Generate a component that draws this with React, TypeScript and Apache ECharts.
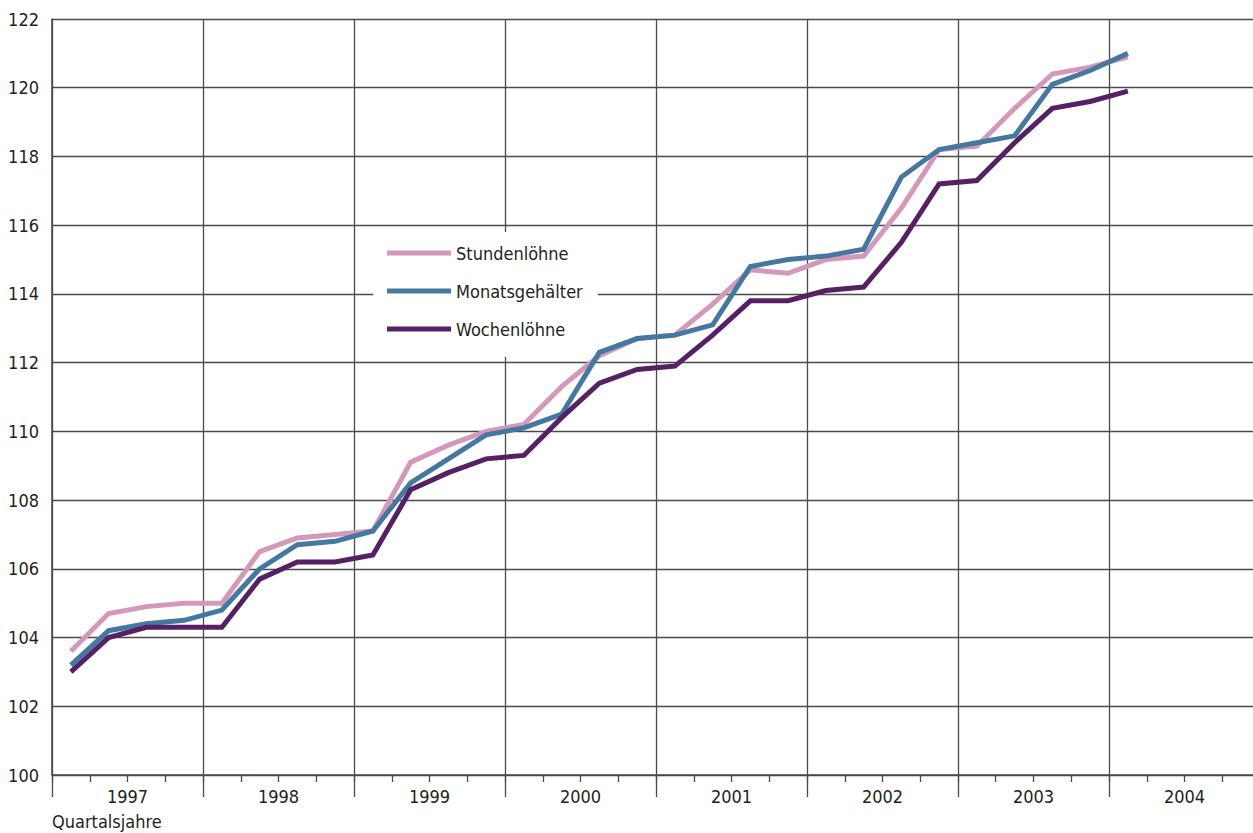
import React, { useEffect, useRef } from "react";
import * as echarts from "echarts";

const years = ["1997", "1998", "1999", "2000", "2001", "2002", "2003", "2004"];
const quarterNames = ["Q1", "Q2", "Q3", "Q4"];
const quarterCats: string[] = [];
years.forEach((y) => quarterNames.forEach((q) => quarterCats.push(y + " " + q)));

const seriesNames = ["Stundenlöhne", "Monatsgehälter", "Wochenlöhne"];

const stundenloehne = [
  103.6, 104.7, 104.9, 105.0, 105.0, 106.5, 106.9, 107.0, 107.1, 109.1, 109.6, 110.0,
  110.2, 111.3, 112.2, 112.7, 112.8, 113.7, 114.7, 114.6, 115.0, 115.1, 116.5, 118.2,
  118.3, 119.4, 120.4, 120.6, 120.9,
];
const monatsgehaelter = [
  103.2, 104.2, 104.4, 104.5, 104.8, 106.0, 106.7, 106.8, 107.1, 108.5, 109.2, 109.9,
  110.1, 110.5, 112.3, 112.7, 112.8, 113.1, 114.8, 115.0, 115.1, 115.3, 117.4, 118.2,
  118.4, 118.6, 120.1, 120.5, 121.0,
];
const wochenloehne = [
  103.0, 104.0, 104.3, 104.3, 104.3, 105.7, 106.2, 106.2, 106.4, 108.3, 108.8, 109.2,
  109.3, 110.4, 111.4, 111.8, 111.9, 112.8, 113.8, 113.8, 114.1, 114.2, 115.5, 117.2,
  117.3, 118.4, 119.4, 119.6, 119.9,
];

const colors = ["#d499ba", "#4578a0", "#552064"];
const FONT = "'DejaVu Sans Condensed', 'Liberation Sans', sans-serif";
const FS = 18;
const TEXT = "#231f20";
const GRID = "#4a4a4a";

export default function App() {
  const ref = useRef<HTMLDivElement>(null);
  useEffect(() => {
    if (!ref.current) return;
    const chart = echarts.init(ref.current, null, { renderer: "svg" });
    const values = [stundenloehne, monatsgehaelter, wochenloehne];
    chart.setOption({
      animation: false,
      backgroundColor: "#ffffff",
      textStyle: { fontFamily: FONT },
      grid: { left: 52, top: 19, right: 0, bottom: 58, containLabel: false },
      legend: {
        orient: "vertical",
        left: 373,
        top: 232,
        backgroundColor: "#ffffff",
        padding: [9, 15, 16, 14],
        itemWidth: 64,
        itemHeight: 5,
        itemGap: 14,
        icon: "rect",
        data: seriesNames,
        textStyle: { fontFamily: FONT, fontSize: FS, color: TEXT, lineHeight: 24 },
      },
      xAxis: [
        {
          type: "category",
          data: quarterCats,
          boundaryGap: true,
          position: "bottom",
          axisLine: { show: true, lineStyle: { color: GRID, width: 1.5 } },
          axisTick: { show: true, interval: 0, length: 7, lineStyle: { color: GRID, width: 1.3 } },
          axisLabel: { show: false },
          splitLine: { show: false },
        },
        {
          type: "category",
          data: years,
          boundaryGap: true,
          position: "bottom",
          axisLine: { show: false },
          axisTick: { show: true, interval: 0, length: 22, lineStyle: { color: GRID, width: 1.3 } },
          axisLabel: { show: true, interval: 0, margin: 12, fontFamily: FONT, fontSize: FS, color: TEXT },
          splitLine: { show: true, interval: 0, lineStyle: { color: GRID, width: 1.3 } },
        },
      ],
      yAxis: {
        type: "value",
        min: 100,
        max: 122,
        interval: 2,
        axisLine: { show: true, lineStyle: { color: GRID, width: 1.5 } },
        axisTick: { show: false },
        axisLabel: { margin: 13, fontFamily: FONT, fontSize: FS, color: TEXT },
        splitLine: { show: true, lineStyle: { color: GRID, width: 1.3 } },
      },
      graphic: [
        {
          type: "text",
          left: 52,
          top: 812,
          style: { text: "Quartalsjahre", fontFamily: FONT, fontSize: FS, fill: TEXT },
        },
      ],
      series: seriesNames.map((name, i) => ({
        name,
        type: "line",
        xAxisIndex: 0,
        data: values[i],
        showSymbol: false,
        symbol: "none",
        lineStyle: { color: colors[i], width: 5, join: "miter" },
        itemStyle: { color: colors[i] },
        z: 3 + i,
      })),
    });
    return () => chart.dispose();
  }, []);
  return (
    <div style={{ position: "absolute", left: 0, top: 0, width: 1253, height: 833, overflow: "hidden", background: "#fff" }}>
      <div ref={ref} style={{ width: 1260, height: 833 }} />
    </div>
  );
}
